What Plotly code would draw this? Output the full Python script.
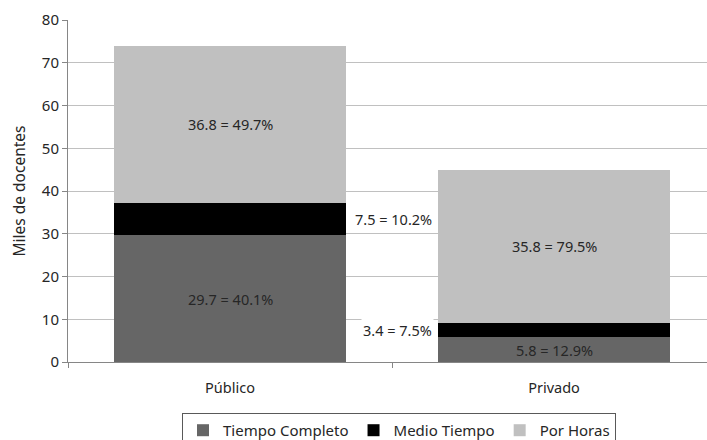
import plotly.graph_objects as go

categories = ["Público", "Privado"]
completo = [29.7, 5.8]
medio = [7.5, 3.4]
horas = [36.8, 35.8]
pct_completo = [40.1, 12.9]
pct_medio = [10.2, 7.5]
pct_horas = [49.7, 79.5]

series_names = ["Tiempo Completo", "Medio Tiempo", "Por Horas"]
colors = ["#666666", "#000000", "#c0c0c0"]

BAR_W = 0.716
FONT = "Noto Sans"
TXT = "#262626"

fig = go.Figure()
for name, vals, col in zip(series_names, [completo, medio, horas], colors):
    fig.add_trace(go.Bar(
        x=categories, y=vals, name=name, width=BAR_W,
        marker=dict(color=col, line=dict(width=0)),
    ))

annotations = []
for i in range(len(categories)):
    annotations.append(dict(x=i, y=completo[i] / 2, xref="x", yref="y",
                            text=f"{completo[i]} = {pct_completo[i]}%", showarrow=False,
                            font=dict(family=FONT, size=14.5, color=TXT)))
    annotations.append(dict(x=1 - BAR_W / 2, y=completo[i] + medio[i] / 2, xref="x", yref="y",
                            xanchor="right", xshift=-4,
                            text=f"{medio[i]} = {pct_medio[i]}%", showarrow=False,
                            bgcolor="white",
                            font=dict(family=FONT, size=14.5, color=TXT)))
    annotations.append(dict(x=i, y=completo[i] + medio[i] + horas[i] / 2, xref="x", yref="y",
                            text=f"{horas[i]} = {pct_horas[i]}%", showarrow=False,
                            font=dict(family=FONT, size=14.5, color=TXT)))

fig.update_layout(
    barmode="stack",
    width=707, height=440,
    margin=dict(l=68, r=0, t=20, b=78, autoexpand=False),
    paper_bgcolor="white", plot_bgcolor="white",
    font=dict(family=FONT, size=14, color=TXT),
    annotations=annotations,
    legend=dict(
        orientation="h", x=0.518, xanchor="center", y=-0.149, yanchor="top",
        bordercolor="#595959", borderwidth=1,
        font=dict(family=FONT, size=15, color=TXT),
        traceorder="normal",
    ),
    xaxis=dict(
        type="category", range=[-0.5, 1.4722],
        showline=True, linecolor="#868686", linewidth=1,
        ticks="outside", tickson="boundaries", ticklen=5, tickcolor="#868686",
        showgrid=False,
        tickfont=dict(family=FONT, size=14.5, color=TXT),
        ticklabelstandoff=13,
    ),
    yaxis=dict(
        range=[0, 80], dtick=10,
        showgrid=True, gridcolor="#c0c0c0", gridwidth=1,
        showline=True, linecolor="#868686", linewidth=1,
        ticks="outside", ticklen=5, tickcolor="#868686",
        zeroline=False,
        tickfont=dict(family=FONT, size=15, color=TXT),
        title=dict(text="Miles de docentes", font=dict(family=FONT, size=15.5, color=TXT), standoff=12),
    ),
)

fig.write_html("out.html")
